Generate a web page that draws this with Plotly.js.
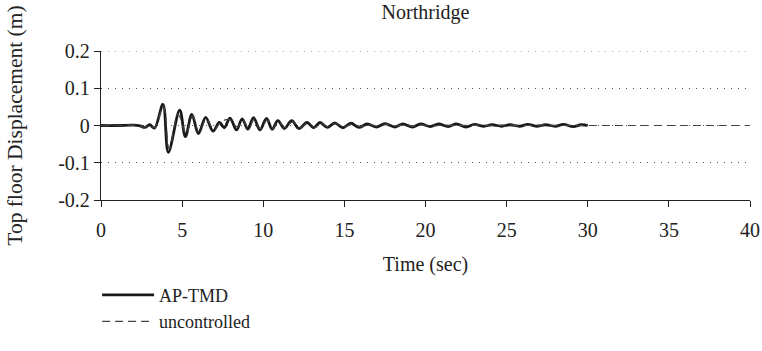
<!DOCTYPE html>
<html>
<head>
<meta charset="utf-8">
<script src="https://cdn.plot.ly/plotly-3.0.1.min.js"></script>
<style>html,body{margin:0;padding:0;background:#fff;}#chart{width:762px;height:351px;}</style>
</head>
<body>
<div id="chart"></div>
<script>
// AP-TMD (solid) - extremes
const tAP = [0, 1.0, 2.0, 2.4, 2.7, 3.0, 3.3, 3.82, 4.15, 4.85, 5.2, 5.6, 6.0, 6.45, 6.9, 7.3, 7.6, 7.95, 8.35, 8.7, 9.05, 9.4, 9.8, 10.2, 10.55, 10.9, 11.3, 11.75, 12.2, 12.7, 13.1, 13.5, 13.95, 14.4, 14.9, 15.4, 15.9, 16.4, 17.0, 17.5, 18.1, 18.6, 19.2, 19.7, 20.3, 20.8, 21.4, 21.9, 22.5, 23.0, 23.6, 24.1, 24.7, 25.2, 25.8, 26.3, 26.9, 27.4, 28.0, 28.5, 29.1, 29.6, 30.0];
const yAP = [0, 0, 0.001, -0.001, -0.005, 0.002, -0.007, 0.057, -0.072, 0.041, -0.030, 0.030, -0.022, 0.022, -0.015, 0.008, -0.006, 0.020, -0.012, 0.018, -0.010, 0.021, -0.012, 0.019, -0.010, 0.013, -0.008, 0.013, -0.008, 0.008, -0.006, 0.008, -0.005, 0.007, -0.006, 0.006, -0.005, 0.004, -0.004, 0.005, -0.004, 0.004, -0.004, 0.004, -0.003, 0.004, -0.003, 0.004, -0.004, 0.003, -0.002, 0.002, -0.002, 0.002, -0.002, 0.003, -0.002, 0.002, -0.002, 0.003, -0.003, 0.002, 0];
// uncontrolled (dashed)
const tUN = [0, 1.0, 2.0, 2.7, 3.0, 3.3, 3.85, 4.2, 4.75, 5.25, 5.65, 6.05, 6.5, 6.95, 7.4, 7.9, 8.4, 8.75, 9.1, 9.45, 9.85, 10.25, 10.6, 10.95, 11.35, 11.8, 12.25, 12.75, 13.2, 13.6, 14.0, 14.5, 15.0, 15.5, 16.0, 16.5, 17.1, 17.6, 18.2, 18.7, 19.3, 19.8, 20.4, 21.0, 22.0, 23.0, 24.0, 25.0, 26.0, 27.0, 28.0, 29.0, 30.0, 32.0, 34.0, 36.0, 38.0, 40.0];
const yUN = [0, 0, 0.001, -0.004, 0.002, -0.006, 0.052, -0.062, 0.030, -0.022, 0.026, -0.018, 0.018, -0.012, 0.010, 0.016, -0.004, 0.014, -0.008, 0.017, -0.009, 0.015, -0.008, 0.010, -0.006, 0.010, -0.006, 0.007, -0.005, 0.006, -0.004, 0.005, -0.004, 0.004, -0.003, 0.003, -0.003, 0.003, -0.002, 0.003, -0.002, 0.002, -0.002, 0.001, 0, 0.001, 0, 0.001, 0, 0.001, 0, 0, 0, 0, 0, 0, 0, 0];
const xTicks = [0, 5, 10, 15, 20, 25, 30, 35, 40];
const yTicks = [-0.2, -0.1, 0, 0.1, 0.2];
const yTickText = ["-0.2", "-0.1", "0", "0.1", "0.2"];

const FONT = "Liberation Serif, Times New Roman, serif";
const C = "#222";
const GRID = "#555";
const traces = [
  {x: tAP, y: yAP, name: "AP-TMD", mode: "lines", line: {color: "#1a1a1a", width: 2.8, shape: "spline", smoothing: 1}},
  {x: tUN, y: yUN, name: "uncontrolled", mode: "lines", line: {color: "#444", width: 1.2, dash: "8px,5px", shape: "spline", smoothing: 1}}
];
const layout = {
  width: 762, height: 351,
  margin: {l: 101, r: 12, t: 51, b: 145},
  paper_bgcolor: "#fff", plot_bgcolor: "#fff",
  font: {family: FONT, size: 20, color: C},
  title: {text: "Northridge", xref: "paper", x: 0.5, xanchor: "center", y: 0.965, yanchor: "middle", font: {family: FONT, size: 20, color: C}},
  showlegend: true,
  legend: {x: -0.006, xanchor: "left", y: -0.515, yanchor: "top", orientation: "v", itemwidth: 52, font: {family: FONT, size: 18, color: C}, bgcolor: "rgba(0,0,0,0)"},
  shapes: [
    {type: "line", xref: "paper", yref: "y", x0: 0, x1: 1, y0: 0.2, y1: 0.2, line: {color: GRID, width: 1, dash: "1px,6px"}, layer: "below"}
  ],
  xaxis: {
    range: [0, 40], tickvals: xTicks, ticktext: xTicks.map(String),
    showline: true, linecolor: C, linewidth: 1.2, ticks: "outside", ticklen: 6, tickcolor: C,
    ticklabelstandoff: 6,
    showgrid: false, zeroline: false,
    title: {text: "Time (sec)", standoff: 16, font: {family: FONT, size: 20, color: C}},
    tickfont: {family: FONT, size: 20, color: C}
  },
  yaxis: {
    range: [-0.2, 0.2], tickvals: yTicks, ticktext: yTickText,
    showline: true, linecolor: C, linewidth: 1.2, ticks: "outside", ticklen: 6, tickcolor: C,
    showgrid: true, gridcolor: GRID, gridwidth: 1, griddash: "1px,6px", zeroline: false,
    title: {text: "Top floor Displacement (m)", standoff: 29, font: {family: FONT, size: 21.5, color: C}},
    tickfont: {family: FONT, size: 20, color: C}
  }
};
Plotly.newPlot("chart", traces, layout, {staticPlot: true, displayModeBar: false});
</script>
</body>
</html>
